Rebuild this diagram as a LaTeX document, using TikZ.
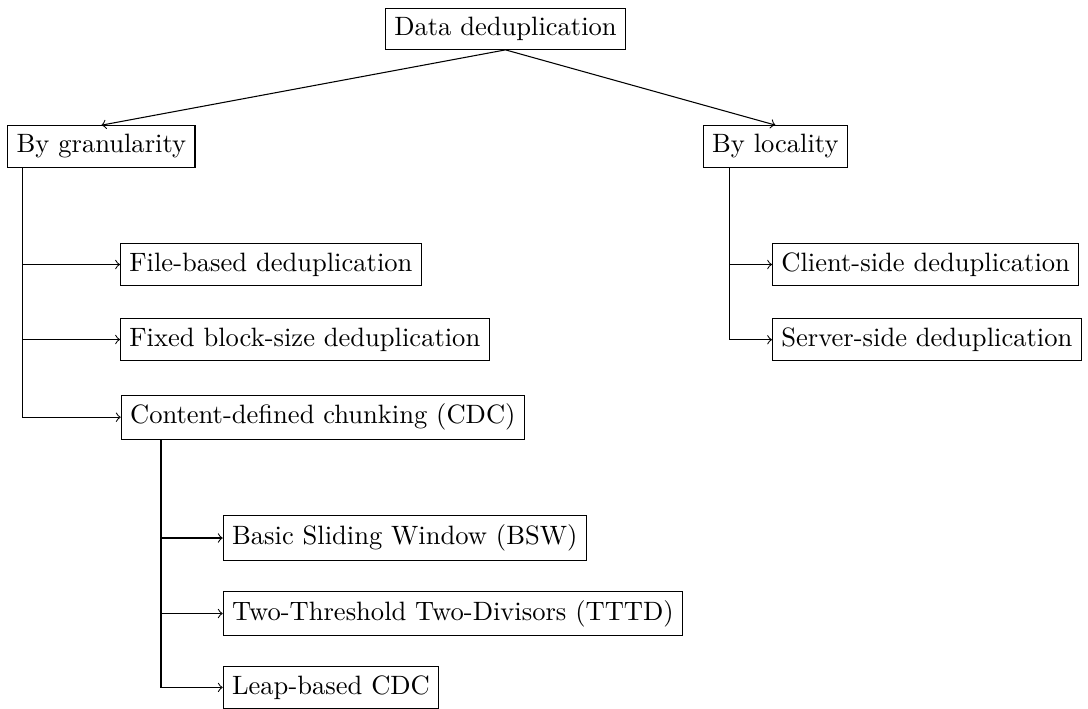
\documentclass[tikz,border=0pt]{standalone}
\begin{document}
\begin{tikzpicture}[x=0.3766pt,y=-0.3766pt,
  box/.style={draw, inner sep=0.3333em, font=\normalsize},
  link/.style={->}]
\useasboundingbox (0,0) rectangle (1088,708);
\node[box] (dd) at (505.5,28.7) {Data deduplication};
\node[box, anchor=west] (gran) at (7.3,146.5) {By granularity};
\node[box, anchor=west] (loc) at (702.7,146.4) {By locality};
\node[box, anchor=west] (file) at (120,264.5) {File-based deduplication};
\node[box, anchor=west] (fixed) at (120,339.5) {Fixed block-size deduplication};
\node[box, anchor=west] (cdc) at (120.7,417.2) {Content-defined chunking (CDC)};
\node[box, anchor=west] (client) at (772,264.5) {Client-side deduplication};
\node[box, anchor=west] (server) at (772,339.7) {Server-side deduplication};
\node[box, anchor=west] (bsw) at (222.7,538) {Basic Sliding Window (BSW)};
\node[box, anchor=west] (tttd) at (222.7,613.5) {Two-Threshold Two-Divisors (TTTD)};
\node[box, anchor=west] (leap) at (222.7,687.4) {Leap-based CDC};
\coordinate (gx) at (22.7,0);
\coordinate (lx) at (729.3,0);
\coordinate (cx) at (161,0);
\draw[link] (dd.south) -- (gran.north);
\draw[link] (dd.south) -- (loc.north);
\draw[link] (gran.south -| gx) |- (file.west);
\draw[link] (gran.south -| gx) |- (fixed.west);
\draw[link] (gran.south -| gx) |- (cdc.west);
\draw[link] (loc.south -| lx) |- (client.west);
\draw[link] (loc.south -| lx) |- (server.west);
\draw[link] (cdc.south -| cx) |- (bsw.west);
\draw[link] (cdc.south -| cx) |- (tttd.west);
\draw[link] (cdc.south -| cx) |- (leap.west);
\end{tikzpicture}
\end{document}
